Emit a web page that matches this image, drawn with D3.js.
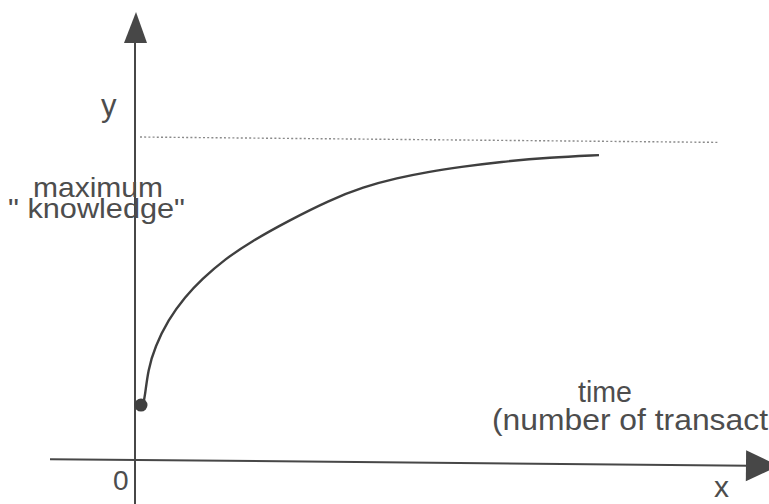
<!DOCTYPE html>
<html>
<head>
<meta charset="utf-8">
<script src="https://cdn.jsdelivr.net/npm/d3@7"></script>
<style>
  body { margin: 0; background: #fff; }
  svg { display: block; font-family: "Liberation Sans", Arial, sans-serif; }
  .lbl { fill: #4d4d4d; font-size: 28px; }
</style>
</head>
<body>
<svg id="chart" width="769" height="504"></svg>
<script>
// learning curve: knowledge rises toward a maximum over time
var timeValues = [1.33, 1.67, 2.17, 3.33, 5.5, 8.33, 11.17, 15.0, 19.5, 25.5, 32.5, 38.0, 43.67, 49.17, 54.17, 60.83, 69.17, 77.33];
var knowledgeValues = [17.0, 19.8, 27.9, 35.0, 43.3, 50.5, 56.0, 62.2, 67.8, 74.0, 80.5, 84.5, 87.3, 89.3, 90.7, 92.3, 93.7, 94.4];
var maxKnowledge = 100;
var maxLineEnd = 96.7;

var svg = d3.select("#chart");
var ink = "#474747";

var xScale = d3.scaleLinear().domain([0, 100]).range([135, 735]);
var yScale = d3.scaleLinear().domain([0, 100]).range([460, 137]);

var x0 = xScale(0), y0 = yScale(0);

// y axis
svg.append("line")
  .attr("x1", x0).attr("x2", x0)
  .attr("y1", 40).attr("y2", 504)
  .attr("stroke", ink).attr("stroke-width", 2);

svg.append("path")
  .attr("d", "M" + (x0 + 1) + ",12 L" + (x0 - 11) + ",43 L" + (x0 + 12) + ",43 Z")
  .attr("fill", ink);

// scan is slightly tilted, so the horizontals lean a bit
var tilt = svg.append("g")
  .attr("transform", "rotate(0.53," + x0 + "," + y0 + ")");

tilt.append("line")
  .attr("x1", 50).attr("x2", 750)
  .attr("y1", y0).attr("y2", y0)
  .attr("stroke", ink).attr("stroke-width", 2);

tilt.append("path")
  .attr("d", "M746," + (y0 - 15.5) + " L779," + y0 + " L746," + (y0 + 15.5) + " Z")
  .attr("fill", ink);

tilt.append("line")
  .attr("x1", x0 + 2).attr("x2", xScale(maxLineEnd))
  .attr("y1", yScale(maxKnowledge)).attr("y2", yScale(maxKnowledge))
  .attr("stroke", "#8a8a8a").attr("stroke-width", 1.4)
  .attr("stroke-dasharray", "2,2.2");

// curve
var pts = timeValues.map(function(t, i) { return [t, knowledgeValues[i]]; });

var line = d3.line()
  .x(function(d) { return xScale(d[0]); })
  .y(function(d) { return yScale(d[1]); })
  .curve(d3.curveBasis);

svg.append("path")
  .datum(pts)
  .attr("d", line)
  .attr("fill", "none")
  .attr("stroke", "#3f3f3f")
  .attr("stroke-width", 2.4);

svg.append("circle")
  .attr("cx", xScale(pts[0][0]) - 2)
  .attr("cy", yScale(pts[0][1]))
  .attr("r", 6.5)
  .attr("fill", "#3f3f3f");

// labels
function label(txt, x, y, size, len) {
  var t = svg.append("text")
    .attr("class", "lbl")
    .attr("x", x).attr("y", y)
    .style("font-size", size + "px")
    .text(txt);
  if (len) t.attr("textLength", len).attr("lengthAdjust", "spacingAndGlyphs");
}

label("y", 101, 116, 31);
label("maximum", 33, 197, 28, 130);
label("\" knowledge\"", 8, 218, 27, 177);
label("time", 578, 402, 29, 54);
label("(number of transact", 492, 430, 29, 276);
label("0", 113, 490, 28);
label("x", 714, 497, 30);
</script>
</body>
</html>
